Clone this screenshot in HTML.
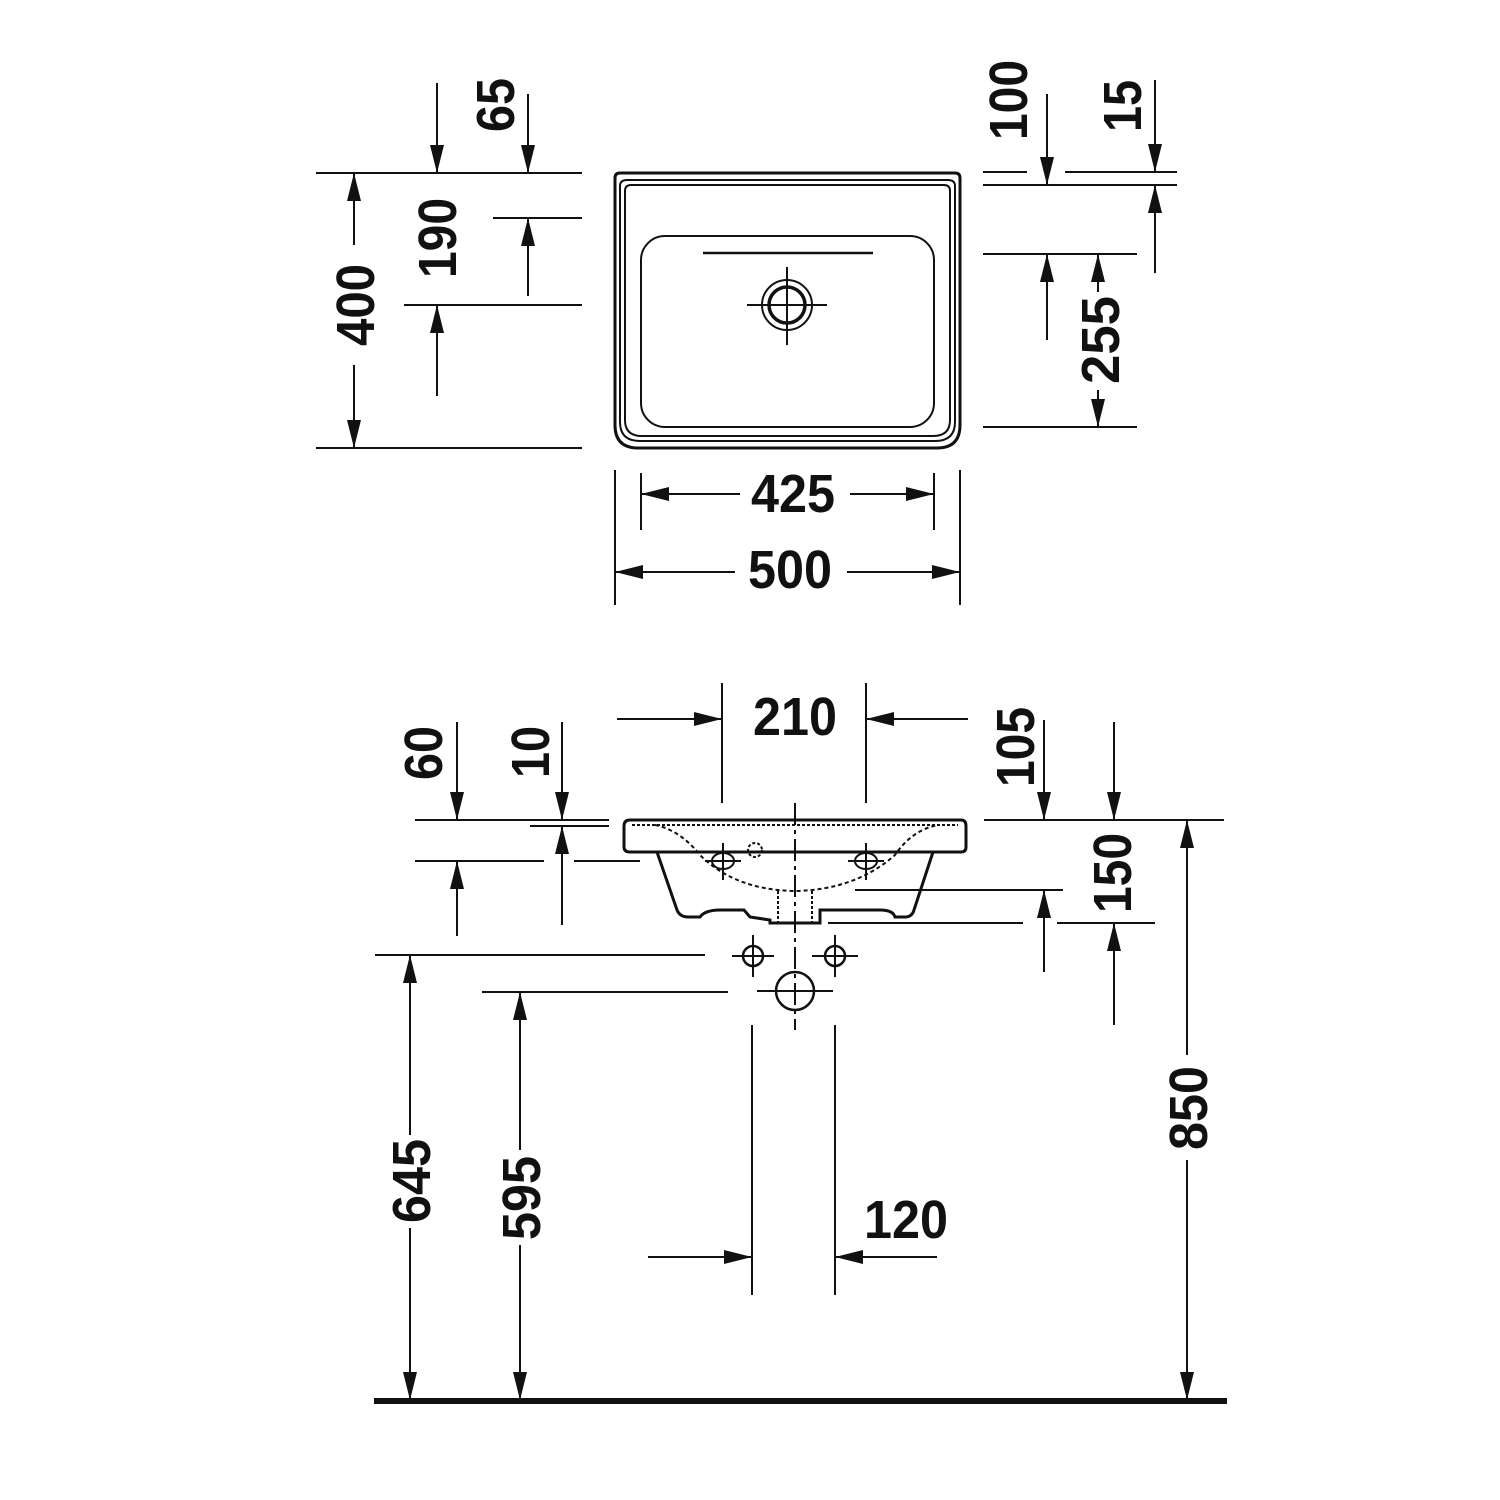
<!DOCTYPE html>
<html><head><meta charset="utf-8"><style>html,body{margin:0;padding:0;background:#fff}svg{display:block}
text{font-family:"Liberation Sans",sans-serif;font-weight:bold;font-size:54px;fill:#111}</style></head>
<body>
<svg width="1500" height="1500" viewBox="0 0 1500 1500" xmlns="http://www.w3.org/2000/svg">
<defs>
<marker id="a" viewBox="0 0 28 14" refX="28" refY="7" markerWidth="28" markerHeight="14" markerUnits="userSpaceOnUse" orient="auto"><path d="M0,0 L28,7 L0,14 Z" fill="#111"/></marker>
</defs>
<g stroke="#111" stroke-width="2" fill="none">
<!-- TOP VIEW -->
<path d="M615,178 Q615,173 620,173 L955,173 Q960,173 960,178 L960,425 Q960,448 937,448 L638,448 Q615,448 615,425 Z" stroke-width="3"/>
<path d="M620,186 Q620,180 627,180 L948,180 Q955,180 955,186 L955,422 Q955,441 935,441 L640,441 Q620,441 620,422 Z"/>
<path d="M625,191 Q625,185 631,185 L944,185 Q950,185 950,191 L950,420 Q950,436 933,436 L642,436 Q625,436 625,420 Z"/>
<rect x="641" y="236" width="293" height="191" rx="24"/>
<line x1="703" y1="253" x2="873" y2="253" stroke-width="2.5"/>
<circle cx="787" cy="305" r="25"/>
<circle cx="787" cy="305" r="18" stroke-width="3.5"/>
<line x1="747" y1="305" x2="827" y2="305"/><line x1="787" y1="267" x2="787" y2="345"/>
<!-- top left dims -->
<line x1="316" y1="173" x2="582" y2="173"/>
<line x1="316" y1="448" x2="582" y2="448"/>
<line x1="493" y1="218" x2="582" y2="218"/>
<line x1="404" y1="305" x2="582" y2="305"/>
<line x1="354" y1="245" x2="354" y2="173" marker-end="url(#a)"/>
<line x1="354" y1="365" x2="354" y2="448" marker-end="url(#a)"/>
<line x1="437" y1="83" x2="437" y2="173" marker-end="url(#a)"/>
<line x1="528" y1="94" x2="528" y2="173" marker-end="url(#a)"/>
<line x1="528" y1="296" x2="528" y2="218" marker-end="url(#a)"/>
<line x1="437" y1="396" x2="437" y2="305" marker-end="url(#a)"/>
<!-- top right dims -->
<line x1="983" y1="172" x2="1027" y2="172"/><line x1="1065" y1="172" x2="1177" y2="172"/>
<line x1="983" y1="185" x2="1177" y2="185"/>
<line x1="983" y1="254" x2="1137" y2="254"/>
<line x1="983" y1="427" x2="1137" y2="427"/>
<line x1="1047" y1="94" x2="1047" y2="185" marker-end="url(#a)"/>
<line x1="1155" y1="80" x2="1155" y2="172" marker-end="url(#a)"/>
<line x1="1155" y1="273" x2="1155" y2="185" marker-end="url(#a)"/>
<line x1="1047" y1="340" x2="1047" y2="254" marker-end="url(#a)"/>
<line x1="1098" y1="292" x2="1098" y2="254" marker-end="url(#a)"/>
<line x1="1098" y1="390" x2="1098" y2="427" marker-end="url(#a)"/>
<!-- width dims -->
<line x1="641" y1="473" x2="641" y2="530"/><line x1="934" y1="473" x2="934" y2="530"/>
<line x1="615" y1="470" x2="615" y2="605"/><line x1="960" y1="470" x2="960" y2="605"/>
<line x1="740" y1="494" x2="641" y2="494" marker-end="url(#a)"/>
<line x1="850" y1="494" x2="934" y2="494" marker-end="url(#a)"/>
<line x1="735" y1="572" x2="615" y2="572" marker-end="url(#a)"/>
<line x1="847" y1="572" x2="960" y2="572" marker-end="url(#a)"/>
<!-- SIDE VIEW -->
<path d="M630,820 L961,820 Q966,820 966,826 L966,847 Q966,852 961,852 L630,852 Q624,852 624,847 L624,826 Q624,820 630,820 Z" stroke-width="3"/>
<path d="M657,852 L677,910 Q680,917 688,917 L700,917 Q705,910 720,910 L744,910 L750,917 L770,920 L770,923 L820,923 L820,910 L880,910 Q893,910 895,917 L905,917 Q912,917 914,910 L933,852" stroke-width="3"/>
<path d="M632,825 L958,825" stroke-dasharray="3,2"/>
<path d="M655,825 Q680,830 700,855 Q735,890 795,891 Q855,890 895,855 Q912,830 938,825" stroke-dasharray="4,3"/>
<path d="M778,891 L778,923 M812,891 L812,923" stroke-dasharray="3,2"/>
<ellipse cx="723" cy="861" rx="11" ry="8"/><ellipse cx="866" cy="861" rx="11" ry="8"/>
<circle cx="755" cy="850" r="7" stroke-dasharray="3,2"/>
<line x1="705" y1="861" x2="741" y2="861"/><line x1="723" y1="843" x2="723" y2="880"/>
<line x1="848" y1="861" x2="884" y2="861"/><line x1="866" y1="843" x2="866" y2="880"/>
<line x1="795" y1="803" x2="795" y2="1030" stroke-dasharray="22,5,4,5"/>
<circle cx="753" cy="956" r="10" stroke-width="2.5"/><circle cx="835" cy="956" r="10" stroke-width="2.5"/>
<line x1="732" y1="956" x2="774" y2="956"/><line x1="753" y1="935" x2="753" y2="977"/>
<line x1="812" y1="956" x2="858" y2="956"/><line x1="835" y1="935" x2="835" y2="977"/>
<circle cx="795" cy="991" r="19" stroke-width="2.5"/>
<line x1="757" y1="991" x2="833" y2="991"/>
<!-- 210 -->
<line x1="722" y1="683" x2="722" y2="803"/><line x1="866" y1="683" x2="866" y2="803"/>
<line x1="617" y1="719" x2="722" y2="719" marker-end="url(#a)"/>
<line x1="968" y1="719" x2="866" y2="719" marker-end="url(#a)"/>
<!-- 60/10 -->
<line x1="415" y1="820" x2="609" y2="820"/>
<line x1="530" y1="826" x2="609" y2="826"/>
<line x1="415" y1="861" x2="544" y2="861"/><line x1="574" y1="861" x2="640" y2="861"/>
<line x1="457" y1="722" x2="457" y2="820" marker-end="url(#a)"/>
<line x1="457" y1="936" x2="457" y2="861" marker-end="url(#a)"/>
<line x1="562" y1="722" x2="562" y2="820" marker-end="url(#a)"/>
<line x1="562" y1="925" x2="562" y2="826" marker-end="url(#a)"/>
<!-- right side -->
<line x1="984" y1="820" x2="1224" y2="820"/>
<line x1="855" y1="890" x2="1063" y2="890"/>
<line x1="828" y1="923" x2="1023" y2="923"/><line x1="1057" y1="923" x2="1155" y2="923"/>
<line x1="1044" y1="720" x2="1044" y2="820" marker-end="url(#a)"/>
<line x1="1114" y1="722" x2="1114" y2="820" marker-end="url(#a)"/>
<line x1="1044" y1="972" x2="1044" y2="890" marker-end="url(#a)"/>
<line x1="1114" y1="1025" x2="1114" y2="923" marker-end="url(#a)"/>
<line x1="1187" y1="1055" x2="1187" y2="820" marker-end="url(#a)"/>
<line x1="1187" y1="1160" x2="1187" y2="1400" marker-end="url(#a)"/>
<!-- heights -->
<line x1="375" y1="955" x2="705" y2="955"/>
<line x1="482" y1="992" x2="728" y2="992"/>
<line x1="410" y1="1135" x2="410" y2="955" marker-end="url(#a)"/>
<line x1="410" y1="1228" x2="410" y2="1400" marker-end="url(#a)"/>
<line x1="520" y1="1150" x2="520" y2="992" marker-end="url(#a)"/>
<line x1="520" y1="1245" x2="520" y2="1400" marker-end="url(#a)"/>
<!-- 120 -->
<line x1="752" y1="1025" x2="752" y2="1295"/><line x1="835" y1="1025" x2="835" y2="1295"/>
<line x1="648" y1="1257" x2="752" y2="1257" marker-end="url(#a)"/>
<line x1="937" y1="1257" x2="835" y2="1257" marker-end="url(#a)"/>
</g>
<rect x="374" y="1398" width="853" height="6" fill="#111"/>
<g text-anchor="middle" dominant-baseline="central">
<text x="793" y="494" textLength="84" lengthAdjust="spacingAndGlyphs">425</text>
<text x="790" y="570" textLength="84" lengthAdjust="spacingAndGlyphs">500</text>
<text x="795" y="717" textLength="84" lengthAdjust="spacingAndGlyphs">210</text>
<text x="906" y="1220" textLength="84" lengthAdjust="spacingAndGlyphs">120</text>
<text transform="translate(356,305) rotate(-90)" textLength="82" lengthAdjust="spacingAndGlyphs">400</text>
<text transform="translate(496,105) rotate(-90)" textLength="54" lengthAdjust="spacingAndGlyphs">65</text>
<text transform="translate(438,238) rotate(-90)" textLength="80" lengthAdjust="spacingAndGlyphs">190</text>
<text transform="translate(1009,100) rotate(-90)" textLength="80" lengthAdjust="spacingAndGlyphs">100</text>
<text transform="translate(1123,106) rotate(-90)" textLength="52" lengthAdjust="spacingAndGlyphs">15</text>
<text transform="translate(1101,340) rotate(-90)" textLength="88" lengthAdjust="spacingAndGlyphs">255</text>
<text transform="translate(424,753) rotate(-90)" textLength="54" lengthAdjust="spacingAndGlyphs">60</text>
<text transform="translate(531,752) rotate(-90)" textLength="52" lengthAdjust="spacingAndGlyphs">10</text>
<text transform="translate(1016,747) rotate(-90)" textLength="80" lengthAdjust="spacingAndGlyphs">105</text>
<text transform="translate(1113,873) rotate(-90)" textLength="80" lengthAdjust="spacingAndGlyphs">150</text>
<text transform="translate(1189,1108) rotate(-90)" textLength="84" lengthAdjust="spacingAndGlyphs">850</text>
<text transform="translate(412,1181) rotate(-90)" textLength="84" lengthAdjust="spacingAndGlyphs">645</text>
<text transform="translate(522,1198) rotate(-90)" textLength="84" lengthAdjust="spacingAndGlyphs">595</text>
</g>
</svg>
</body></html>
